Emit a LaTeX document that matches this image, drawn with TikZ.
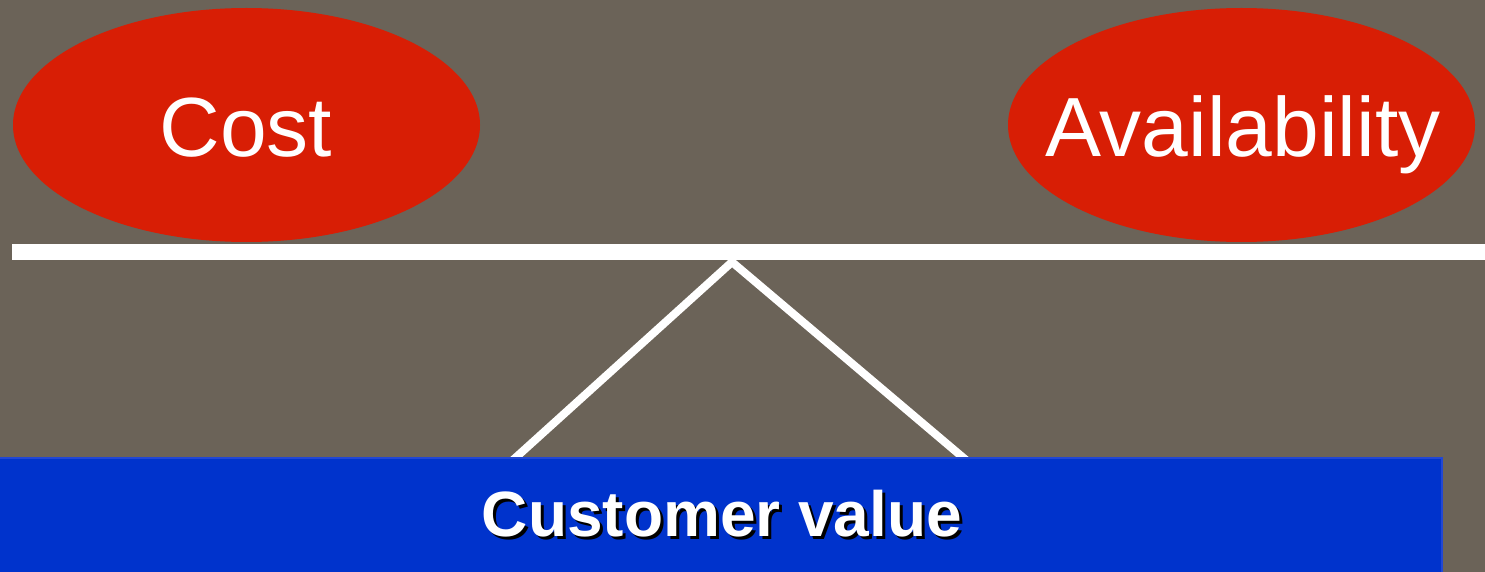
\documentclass[tikz,border=0pt]{standalone}
\usepackage{fontspec}
\setmainfont{Liberation Sans}
\usetikzlibrary{shapes.geometric}
\definecolor{bg}{HTML}{6B6358}
\definecolor{redfill}{HTML}{D81E05}
\definecolor{bluefill}{HTML}{0033CC}
\definecolor{blueedge}{HTML}{2247D4}
\newcommand{\shadowtext}[1]{\rlap{\kern3pt\raisebox{-3pt}{\textcolor{black}{#1}}}#1}
\begin{document}
\begin{tikzpicture}[x=1pt,y=-1pt,
  oval/.style={ellipse, fill=redfill, minimum width=467pt, minimum height=234pt, inner sep=0pt},
  ovaltext/.style={text=white, font=\fontsize{84}{96}\selectfont, anchor=base, inner sep=0pt},
  beam/.style={white, line width=16pt},
  leg/.style={white, line width=8pt},
  valbox/.style={fill=bluefill, draw=blueedge, line width=1.5pt},
  valtext/.style={text=white, font=\bfseries\fontsize{64}{76}\selectfont, anchor=base, inner sep=0pt}]
\fill[bg] (0,0) rectangle (1485,572);
\useasboundingbox (0,0) rectangle (1485,572);
\node[oval] (cost) at (246.5,125) {};
\node[ovaltext] (costt) at (246,157) {Cost};
\node[oval] (avail) at (1241.5,125) {};
\node[ovaltext] (availt) at (1243,157) {Availability};
\coordinate (bl) at (12,251.5);
\coordinate (br) at (1490,251.5);
\draw[beam] (bl) -- (br);
\coordinate (pivot) at (732,262);
\coordinate (legl) at (513,460);
\coordinate (legr) at (966,460);
\draw[leg, line join=miter] (legl) -- (pivot) -- (legr);
\draw[valbox] (-2,458) rectangle (1442,580);
\node[valtext] (cv) at (722,536) {\shadowtext{Customer value}};
\end{tikzpicture}
\end{document}
